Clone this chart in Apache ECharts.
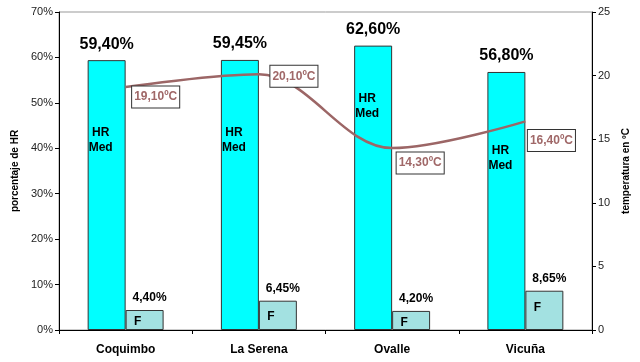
<!DOCTYPE html>
<html><head><meta charset="utf-8">
<script src="https://cdn.jsdelivr.net/npm/echarts@6/dist/echarts.min.js"></script>
<style>html,body{margin:0;padding:0;background:#fff}#c{width:640px;height:362px}</style>
</head><body><div id="c"></div>
<script>
var categories = ['Coquimbo', 'La Serena', 'Ovalle', 'Vicuña'];
var hrMed = [59.40, 59.45, 62.60, 56.80];
var fValues = [4.40, 6.45, 4.20, 8.65];
var temperature = [19.10, 20.10, 14.30, 16.40];
var pctTicks = [0, 10, 20, 30, 40, 50, 60, 70];
var tempTicks = [0, 5, 10, 15, 20, 25];

// label layout tweaks (not data)
var hrInnerOffset = [80, 80, 61, 86];
var fInnerOffset = [12, 16, 12, 17];
var tempLabelOffsetX = [0, 5, -2, -4];
var tempLabelOffsetY = [10, 2, 15, 19];

var FONT = 'Liberation Sans, Arial, sans-serif';
function pct(v){ return v.toFixed(2).replace('.', ',') + '%'; }
function deg(v){ return v.toFixed(2).replace('.', ',') + 'ºC'; }

var chart = echarts.init(document.getElementById('c'));
chart.setOption({
  animation: false,
  textStyle: { fontFamily: FONT },
  grid: { left: 59, right: 48, top: 12, bottom: 32, show: true, borderColor: '#999', borderWidth: 1, backgroundColor: 'transparent' },
  xAxis: {
    type: 'category', data: categories,
    axisLine: { lineStyle: { color: '#000', width: 1 } },
    axisTick: { show: true, length: 4, lineStyle: { color: '#000' } },
    axisLabel: { color: '#000', fontWeight: 'bold', fontSize: 12, margin: 14, fontFamily: FONT }
  },
  yAxis: [{
    type: 'value', min: pctTicks[0], max: pctTicks[pctTicks.length - 1], interval: 10,
    name: 'porcentaje de HR', nameLocation: 'middle', nameGap: 33, nameRotate: 90,
    nameTextStyle: { fontWeight: 'bold', fontSize: 10, color: '#000', fontFamily: FONT },
    axisLine: { show: true, lineStyle: { color: '#000' } },
    axisTick: { show: true, length: 4, lineStyle: { color: '#000' } },
    axisLabel: { formatter: '{value}%', color: '#222', fontSize: 11, margin: 6, fontFamily: FONT },
    splitLine: { show: false }
  }, {
    type: 'value', min: tempTicks[0], max: tempTicks[tempTicks.length - 1], interval: 5,
    name: 'temperatura en ºC', nameLocation: 'middle', nameGap: 22, nameRotate: 90,
    nameTextStyle: { fontWeight: 'bold', fontSize: 10, color: '#000', fontFamily: FONT },
    axisLine: { show: true, lineStyle: { color: '#000' } },
    axisTick: { show: true, length: 4, lineStyle: { color: '#000' } },
    axisLabel: { color: '#222', fontSize: 11, margin: 6, fontFamily: FONT },
    splitLine: { show: false }
  }],
  series: [{
    type: 'bar', name: 'HR Med', barWidth: '28.5%', barGap: '0%',
    data: hrMed,
    itemStyle: { color: '#00FFFF', borderColor: '#333', borderWidth: 1 },
    label: { show: true, position: 'top', distance: 8, formatter: function(p){ return pct(p.value); }, fontWeight: 'bold', fontSize: 16, color: '#000' },
    markPoint: {
      symbol: 'circle', symbolSize: 0,
      data: hrMed.map(function(v, i){
        return { coord: [i, v], value: v, label: { show: true, position: 'inside', offset: [-6, hrInnerOffset[i]], formatter: 'HR\nMed', fontWeight: 'bold', fontSize: 12, lineHeight: 15, color: '#000' } };
      })
    }
  }, {
    type: 'bar', name: 'F', barWidth: '28.5%', barGap: '0%',
    data: fValues,
    itemStyle: { color: '#A3E1E1', borderColor: '#333', borderWidth: 1 },
    label: { show: true, position: 'top', distance: 6, offset: [5, 0], formatter: function(p){ return pct(p.value); }, fontWeight: 'bold', fontSize: 12, color: '#000' },
    markPoint: {
      symbol: 'circle', symbolSize: 0,
      data: fValues.map(function(v, i){
        return { coord: [i, v], value: v, label: { show: true, position: 'inside', offset: [-7, fInnerOffset[i]], formatter: 'F', fontWeight: 'bold', fontSize: 12, color: '#000' } };
      })
    }
  }, {
    type: 'line', name: 'Temp', yAxisIndex: 1, smooth: 0.35,
    symbol: 'circle', symbolSize: 1, showSymbol: true, z: 5,
    itemStyle: { color: 'rgba(0,0,0,0)' },
    lineStyle: { color: '#9C6666', width: 2.5 },
    data: temperature.map(function(v, i){
      return { value: v, label: { show: true, position: 'right', distance: 6, offset: [tempLabelOffsetX[i], tempLabelOffsetY[i]],
        formatter: deg(v), fontWeight: 'bold', fontSize: 12, color: '#A06868',
        backgroundColor: '#fff', borderColor: '#333', borderWidth: 1, padding: [5, 2, 4, 2] } };
    })
  }]
});
</script></body></html>
